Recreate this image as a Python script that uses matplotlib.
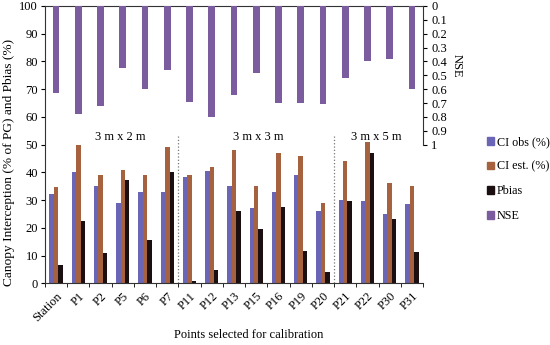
import numpy as np
import matplotlib.pyplot as plt
from matplotlib.patches import Patch

plt.rcParams['font.family'] = ['Liberation Serif', 'DejaVu Serif']

points = ['Station', 'P1', 'P2', 'P5', 'P6', 'P7', 'P11', 'P12', 'P13', 'P15',
          'P16', 'P19', 'P20', 'P21', 'P22', 'P30', 'P31']
ci_obs = [32.1, 40.1, 35, 29.1, 33.1, 33.1, 38.5, 40.6, 35, 27.1, 33.1, 39.1, 26.1, 30.1, 29.6, 25.1, 28.6]
ci_est = [34.9, 50, 39, 41, 39, 49, 39, 42, 48, 35, 47, 46, 29, 44, 51, 36, 35]
pbias = [6.5, 22.4, 11.1, 37.1, 15.6, 40.1, 0.7, 4.7, 26.2, 19.5, 27.4, 11.8, 4.2, 29.6, 47, 23.1, 11.2]
nse = [0.63, 0.78, 0.72, 0.45, 0.60, 0.46, 0.69, 0.80, 0.64, 0.48, 0.70, 0.70, 0.71, 0.52, 0.40, 0.38, 0.60]

groups = ['3 m x 2 m', '3 m x 3 m', '3 m x 5 m']
group_x = [2.9, 9.1, 14.4]
separators = [5.5, 12.5]

c_obs = '#6a65b4'
c_est = '#a6613f'
c_pb = '#1c0f12'
c_nse = '#7b5c9e'

fs = 9

fig = plt.figure(figsize=(5.5, 3.45), dpi=100)
ax = fig.add_axes([45/550, 1-283.3/345, (423-45)/550, (283.3-6)/345])

x = np.arange(len(points))
w = 0.2
ax.bar(x - w, ci_obs, w, color=c_obs)
ax.bar(x, ci_est, w, color=c_est)
ax.bar(x + w, pbias, w, color=c_pb)

ax.set_xlim(-0.5, len(points) - 0.5)
ax.set_ylim(0, 100)
ax.set_yticks(np.arange(0, 101, 10))
ax.tick_params(axis='y', direction='out', length=3, labelsize=fs, pad=2)
ax.set_xticks(x)
ax.set_xticklabels(points, rotation=45, ha='right', rotation_mode='anchor', fontsize=fs)
ax.set_xticks(np.arange(-0.5, len(points)), minor=True)
ax.tick_params(axis='x', which='major', length=0, pad=5)
ax.tick_params(axis='x', which='minor', length=3, direction='out')
ax.spines['right'].set_visible(False)
for s in ['left', 'bottom', 'top']:
    ax.spines[s].set_color('#333333')
    ax.spines[s].set_linewidth(0.8)

for sx in separators:
    ax.plot([sx, sx], [0, 53], ls=':', color='#777777', lw=0.9)
for gx, g in zip(group_x, groups):
    ax.text(gx, 52.7, g, ha='center', va='center', fontsize=fs)

ax.set_ylabel('Canopy Interception (% of PG) and Pbias (%)', fontsize=9.6, va='center')
ax.yaxis.set_label_coords(-0.095, 0.437)
ax.set_xlabel('Points selected for calibration', fontsize=fs, va='center')
ax.xaxis.set_label_coords(0.54, -0.187)

ax2 = ax.twinx()
ax2.bar(x, nse, 0.3, color=c_nse)
ax2.set_ylim(2, 0)
ax2.set_yticks(np.arange(0, 1.01, 0.1))
ax2.set_yticklabels(['0', '0.1', '0.2', '0.3', '0.4', '0.5', '0.6', '0.7', '0.8', '0.9', '1'])
ax2.tick_params(axis='y', direction='out', length=3, labelsize=fs, pad=3)
ax2.spines['right'].set_bounds(0, 1)
ax2.spines['right'].set_color('#333333')
ax2.spines['right'].set_linewidth(0.8)
for s in ['left', 'bottom', 'top']:
    ax2.spines[s].set_visible(False)
ax2.set_ylabel('NSE', fontsize=fs, rotation=270, va='center')
ax2.yaxis.set_label_coords(1.09, 0.785)

handles = [Patch(color=c_obs, label='CI obs (%)'), Patch(color=c_est, label='CI est. (%)'),
           Patch(color=c_pb, label='Pbias'), Patch(color=c_nse, label='NSE')]
fig.legend(handles=handles, loc='upper left', bbox_to_anchor=(487/550, 1-136/345), frameon=False,
           fontsize=8.7, handlelength=0.6, handleheight=0.6, handletextpad=0.2, labelspacing=1.05,
           borderaxespad=0, borderpad=0)

fig.savefig('out.png', dpi=100)
